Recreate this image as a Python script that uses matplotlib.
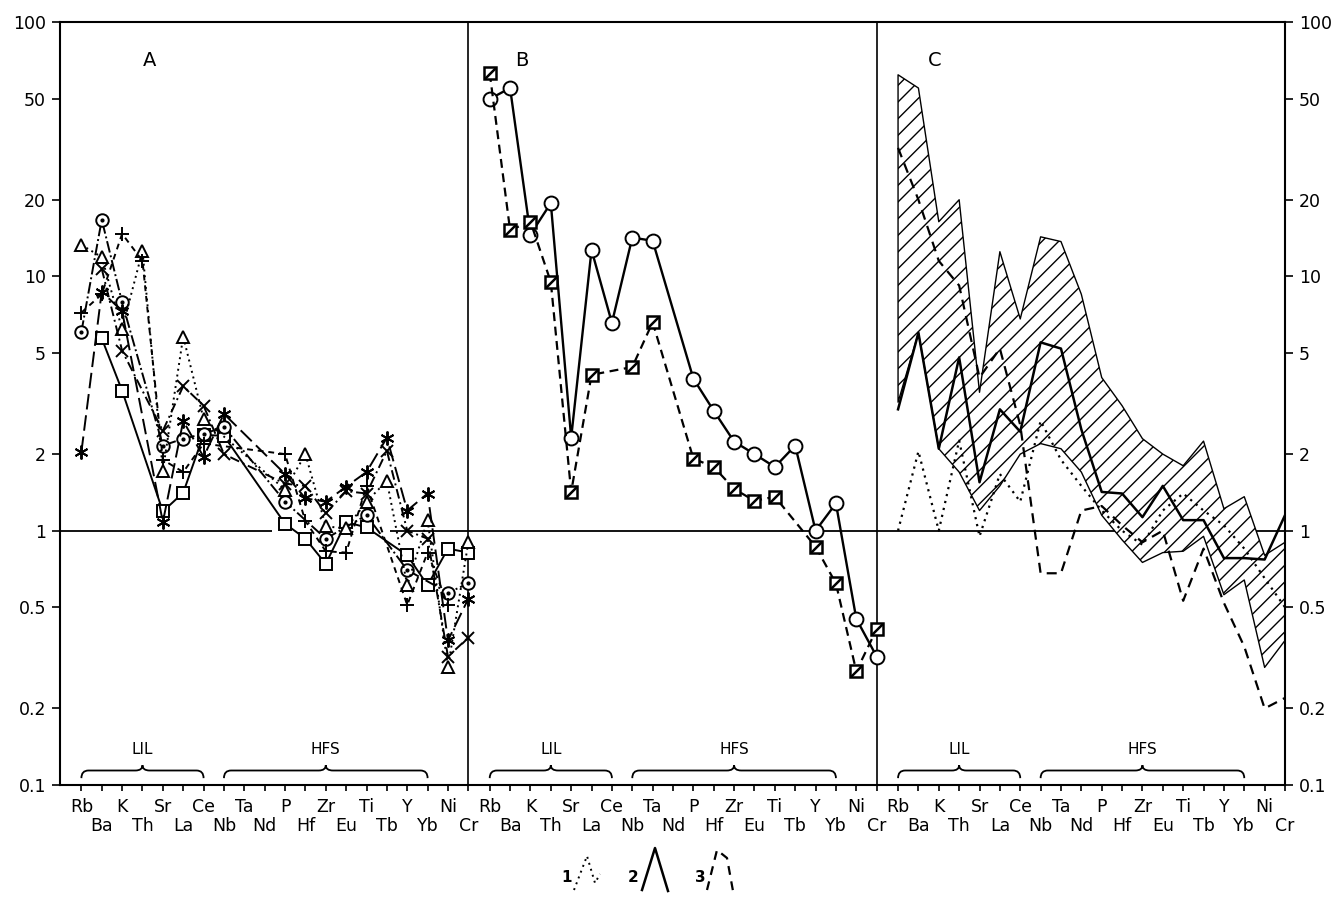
import numpy as np
import matplotlib
matplotlib.use("Agg")
import matplotlib.pyplot as plt
from matplotlib.ticker import FixedLocator, FixedFormatter, NullLocator
from matplotlib.path import Path
from matplotlib.patches import PathPatch
import matplotlib.transforms as mtransforms

nan = np.nan
elements = ["Rb", "Ba", "K", "Th", "Sr", "La", "Ce", "Nb", "Ta", "Nd",
            "P", "Hf", "Zr", "Eu", "Ti", "Tb", "Y", "Yb", "Ni", "Cr"]

# ---- Panel A (six samples) ----
A_triangle = [13.3, 11.9, 6.2, 12.6, 1.72, 5.8, 2.75, nan, nan, nan,
              1.45, 2.0, 1.04, 1.02, 1.3, 1.57, 0.61, 1.1, 0.29, 0.9]
A_circledot = [6.05, 16.7, 7.9, nan, 2.16, 2.3, 2.4, 2.56, nan, nan,
               1.3, nan, 0.93, nan, 1.15, nan, 0.70, nan, 0.57, 0.62]
A_cross = [nan, 10.7, 5.1, nan, 2.47, 3.7, 3.1, 2.0, nan, nan,
           1.53, 1.5, 1.17, 1.43, 1.4, 2.06, 1.0, 0.93, 0.32, 0.38]
A_plus = [7.2, 8.5, 14.7, 11.5, 1.9, 1.7, 2.2, nan, nan, nan,
          2.0, 1.09, 0.83, 0.82, 1.5, nan, 0.51, 0.82, 0.51, nan]
A_star = [2.04, 8.7, 7.3, nan, 1.08, 2.7, 1.95, 2.88, nan, nan,
          1.67, 1.34, 1.3, 1.49, 1.7, 2.32, 1.2, 1.4, 0.37, 0.54]
A_square = [nan, 5.7, 3.55, nan, 1.19, 1.41, 2.38, 2.36, nan, nan,
            1.065, 0.93, 0.74, 1.08, 1.03, nan, 0.8, 0.61, 0.85, 0.82]

# ---- Panel B ----
B_circle = [49.8, 55, 14.6, 19.4, 2.32, 12.7, 6.56, 14.2, 13.8, nan,
            3.96, 2.96, 2.24, 2.0, 1.78, 2.16, 1.0, 1.28, 0.45, 0.32]
B_square = [63, 15.2, 16.4, 9.5, 1.42, 4.1, nan, 4.4, 6.6, nan,
            1.92, 1.78, 1.46, 1.31, 1.36, nan, 0.865, 0.62, 0.28, 0.41]

# ---- Panel C ----
C_upper = [62, 55, 16.4, 20, 3.5, 12.5, 6.8, 14.3, 13.7, 8.5,
           4.0, 3.1, 2.3, 2.0, 1.8, 2.25, 1.22, 1.36, 0.8, 0.9]
C_lower = [3.2, 6.0, 2.1, 1.7, 1.2, 1.5, 2.0, 2.2, 2.1, 1.7,
           1.15, 0.92, 0.75, 0.82, 0.83, 0.95, 0.56, 0.64, 0.29, 0.37]
C_solid = [3.0, 6.0, 2.1, 4.8, 1.55, 3.0, 2.45, 5.5, 5.2, 2.5,
           1.42, 1.4, 1.13, 1.5, 1.1, 1.1, 0.78, 0.78, 0.77, 1.15]
C_dashed = [32, 20, 11.5, 9.2, 4.0, 5.2, 2.6, 0.68, 0.68, 1.2,
            1.25, 1.05, 0.9, 1.0, 0.53, 0.85, 0.52, 0.35, 0.2, 0.22]
C_dotted = [1.0, 2.05, 1.0, 2.26, 0.95, 1.67, 1.3, 2.7, 1.9, 1.5,
            1.2, 1.0, 0.88, 1.2, 1.4, 1.2, 1.05, 0.85, 0.65, 0.5]

group_labels = ["LIL", "HFS"]
group_ranges = [(0, 6), (7, 17)]
panel_letters = ["A", "B", "C"]
ytick_vals = [0.1, 0.2, 0.5, 1, 2, 5, 10, 20, 50, 100]
ytick_labels = ["0.1", "0.2", "0.5", "1", "2", "5", "10", "20", "50", "100"]
legend_labels = ["1", "2", "3"]

plt.rcParams["font.family"] = ["DejaVu Sans"]
plt.rcParams["hatch.linewidth"] = 1.0

FW, FH = 1334, 923
fig = plt.figure(figsize=(FW / 100, FH / 100), dpi=100)
ax = fig.add_axes([60 / FW, 1 - 785 / FH, 1225 / FW, 763 / FH])
ax.set_yscale("log")
ax.set_ylim(0.1, 100)
W = 20.05
OFF = 1.05
ax.set_xlim(0, 3 * W)
n = len(elements)


def xs(panel):
    return panel * W + OFF + np.arange(n)


def series(panel, vals, ls, marker, ms, lw=1.4, mfc="white", mew=1.4, z=3):
    x = xs(panel)
    y = np.array(vals, float)
    m = ~np.isnan(y)
    ax.plot(x[m], y[m], color="black", ls=ls, lw=lw, marker=marker, ms=ms,
            mfc=mfc, mec="black", mew=mew, zorder=z)
    return x[m], y[m]


# reference line (interrupted in panel A as in the original) and panel dividers
ax.hlines(1, 0, 10.4, color="black", lw=1.3, zorder=1)
ax.hlines(1, 16.2, 3 * W, color="black", lw=1.3, zorder=1)
ax.axvline(W, color="black", lw=1.2, zorder=1)
ax.axvline(2 * W, color="black", lw=1.2, zorder=1)

# Panel A
series(0, A_square, "-", "s", 8)
x, y = series(0, A_circledot, (0, (6, 1.5, 1, 1.5)), "o", 9)
ax.plot(x, y, ls="none", marker="o", ms=2, color="black", zorder=4)
series(0, A_triangle, (0, (1, 2)), "^", 9)
series(0, A_cross, (0, (5, 2, 1, 2)), "x", 8)
series(0, A_plus, (0, (3, 2.5)), "+", 10)
series(0, A_star, (0, (8, 3)), (6, 2, 0), 10)

# Panel B
series(1, B_circle, "-", "o", 10, lw=1.7)
slash = Path([(-1, -1), (1, 1)], [Path.MOVETO, Path.LINETO])
x, y = series(1, B_square, (0, (4, 2.5)), "s", 8, lw=1.6, mew=1.8)
ax.plot(x, y, ls="none", marker=slash, ms=8, mec="black", mew=1.8, zorder=4)

# Panel C
xc = xs(2)
ax.fill_between(xc, C_lower, C_upper, facecolor="white", edgecolor="black",
                hatch="//", linewidth=1.0, zorder=2)
ax.plot(xc, C_solid, color="black", lw=1.8, zorder=3)
ax.plot(xc, C_dashed, color="black", lw=1.6, ls=(0, (4.5, 3)), zorder=3)
ax.plot(xc, C_dotted, color="black", lw=1.6, ls=(0, (1, 2.2)), zorder=3)

# axes styling
for s in ax.spines.values():
    s.set_linewidth(1.5)

major_pos, major_lab, minor_pos, minor_lab = [], [], [], []
for p in range(3):
    for i, e in enumerate(elements):
        pos = p * W + OFF + i
        if i % 2 == 0:
            major_pos.append(pos)
            major_lab.append(e)
        else:
            minor_pos.append(pos)
            minor_lab.append(e)
ax.xaxis.set_major_locator(FixedLocator(major_pos))
ax.xaxis.set_major_formatter(FixedFormatter(major_lab))
ax.xaxis.set_minor_locator(FixedLocator(minor_pos))
ax.xaxis.set_minor_formatter(FixedFormatter(minor_lab))
ax.tick_params(axis="x", which="both", direction="out", length=4.5, width=1.2,
               labelsize=12.5)
ax.tick_params(axis="x", which="major", pad=4.5)
ax.tick_params(axis="x", which="minor", pad=18.5)

ax.yaxis.set_major_locator(FixedLocator(ytick_vals))
ax.yaxis.set_major_formatter(FixedFormatter(ytick_labels))
ax.yaxis.set_minor_locator(NullLocator())
ax.tick_params(axis="y", which="major", direction="out", length=6, width=1.2,
               labelsize=12.5, left=True, right=True, labelleft=True,
               labelright=True, pad=4)

# panel letters
ltr = mtransforms.blended_transform_factory(ax.transData, ax.transAxes)
for p, letter in enumerate(panel_letters):
    ax.text(p * W + OFF + [3.37, 1.58, 1.81][p], 0.95, letter, transform=ltr,
            fontsize=14, ha="center", va="center")

# braces with group labels
btr = mtransforms.blended_transform_factory(ax.transData, ax.transAxes)


def brace(x0, x1, label):
    xm = 0.5 * (x0 + x1)
    h = 0.35
    y0, yf, yb = 0.009, 0.019, 0.026
    verts = [(x0, y0), (x0, yf), (x0 + h, yf), (xm - h, yf), (xm, yf), (xm, yb),
             (xm, yf), (xm + h, yf), (x1 - h, yf), (x1, yf), (x1, y0)]
    codes = [Path.MOVETO, Path.CURVE3, Path.CURVE3, Path.LINETO, Path.CURVE3,
             Path.CURVE3, Path.CURVE3, Path.CURVE3, Path.LINETO, Path.CURVE3,
             Path.CURVE3]
    ax.add_patch(PathPatch(Path(verts, codes), fill=False, lw=1.3,
                           transform=btr, clip_on=False))
    ax.text(xm, 0.047, label, transform=btr, ha="center", va="center",
            fontsize=11)


for p in range(3):
    for lab, (i0, i1) in zip(group_labels, group_ranges):
        brace(p * W + OFF + i0, p * W + OFF + i1, lab)

# legend at bottom (pixel coordinates)
lg = fig.add_axes([0, 0, 1, 1])
lg.set_xlim(0, FW)
lg.set_ylim(FH, 0)
lg.axis("off")
lg.text(567, 878, legend_labels[0], fontsize=11, ha="center", va="center",
        fontweight="bold")
lg.plot([574, 587, 595, 600], [890, 856, 883, 874], color="black", lw=1.4,
        ls=(0, (1, 2.2)))
lg.text(633, 878, legend_labels[1], fontsize=11, ha="center", va="center",
        fontweight="bold")
lg.plot([642, 655, 668], [890, 848, 891], color="black", lw=1.8)
lg.text(700, 878, legend_labels[2], fontsize=11, ha="center", va="center",
        fontweight="bold")
lg.plot([707, 717, 727, 733], [890, 850, 858, 891], color="black", lw=1.6,
        ls=(0, (4, 3)))

fig.savefig("out.png", dpi=100)
